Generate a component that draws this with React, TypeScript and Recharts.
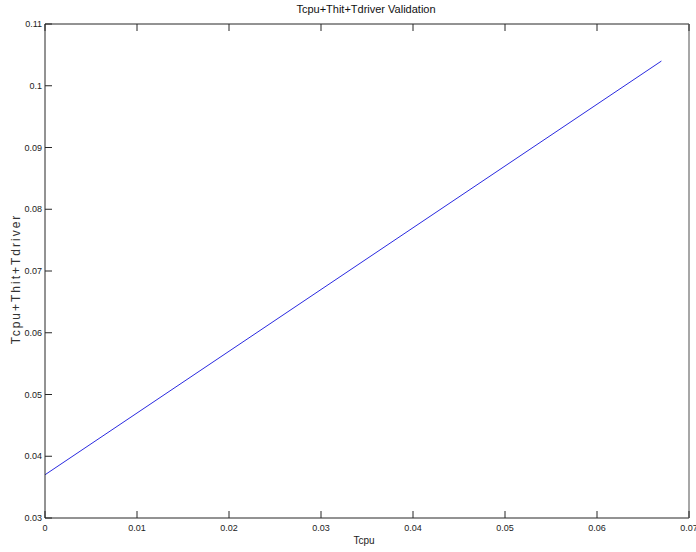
import React from "react";
import { LineChart, Line, XAxis, YAxis } from "recharts";

// Tcpu (x) vs Tcpu+Thit+Tdriver (y)
const tcpu = [0, 0.01, 0.02, 0.03, 0.04, 0.05, 0.06, 0.067];
const totalTime = [0.037, 0.047, 0.057, 0.067, 0.077, 0.087, 0.097, 0.104];

const xTicks = [0, 0.01, 0.02, 0.03, 0.04, 0.05, 0.06, 0.07];
const yTicks = [0.03, 0.04, 0.05, 0.06, 0.07, 0.08, 0.09, 0.1, 0.11];

const data = tcpu.map((x, i) => ({ x, y: totalTime[i] }));

const fmt = (v: number) => String(Number(v.toFixed(2)));
const font = "'Liberation Sans', Arial, sans-serif";
const axisColor = "#262626";
const TICK = 7;

const BottomTick = (props: any) => {
  const { x, y, payload } = props;
  return (
    <g>
      <line x1={x} y1={y} x2={x} y2={y - TICK} stroke={axisColor} />
      <text x={x} y={y + 13} textAnchor="middle" fontSize={9} fontFamily={font} fill="#222">
        {fmt(payload.value)}
      </text>
    </g>
  );
};

const TopTick = (props: any) => {
  const { x, y } = props;
  return <line x1={x} y1={y} x2={x} y2={y + TICK} stroke={axisColor} />;
};

const LeftTick = (props: any) => {
  const { x, y, payload } = props;
  return (
    <g>
      <line x1={x} y1={y} x2={x + TICK} y2={y} stroke={axisColor} />
      <text x={x - 3} y={y + 3} textAnchor="end" fontSize={9} fontFamily={font} fill="#222">
        {fmt(payload.value)}
      </text>
    </g>
  );
};

const RightTick = (props: any) => {
  const { x, y } = props;
  return <line x1={x} y1={y} x2={x - TICK} y2={y} stroke={axisColor} />;
};

export default function App() {
  return (
    <div style={{ position: "absolute", left: 0, top: 0, width: 696, height: 552, background: "#fff", fontFamily: font }}>
      <div style={{ position: "absolute", left: 0, width: 732, top: 3, textAlign: "center", fontSize: 11, color: "#111" }}>
        Tcpu+Thit+Tdriver Validation
      </div>
      <div style={{ position: "absolute", left: 0, width: 728, top: 535, textAlign: "center", fontSize: 10, color: "#222" }}>
        Tcpu
      </div>
      <div
        style={{
          position: "absolute",
          left: 16,
          top: 279,
          fontSize: 12,
          letterSpacing: 2,
          color: "#333",
          whiteSpace: "nowrap",
          transform: "translate(-50%, -50%) rotate(-90deg)",
        }}
      >
        Tcpu+Thit+Tdriver
      </div>
      <LineChart width={696} height={552} data={data} margin={{ top: 23, right: 6, bottom: 33, left: 44 }}>
        <XAxis
          xAxisId="b"
          dataKey="x"
          type="number"
          domain={[0, 0.07]}
          ticks={xTicks}
          interval={0}
          height={1}
          tickSize={0}
          tickMargin={0}
          tickLine={false}
          axisLine={{ stroke: axisColor }}
          tick={<BottomTick />}
        />
        <XAxis
          xAxisId="t"
          orientation="top"
          dataKey="x"
          type="number"
          domain={[0, 0.07]}
          ticks={xTicks}
          interval={0}
          height={1}
          tickSize={0}
          tickMargin={0}
          tickLine={false}
          axisLine={{ stroke: axisColor }}
          tick={<TopTick />}
        />
        <YAxis
          yAxisId="l"
          type="number"
          domain={[0.03, 0.11]}
          ticks={yTicks}
          interval={0}
          width={1}
          tickSize={0}
          tickMargin={0}
          tickLine={false}
          axisLine={{ stroke: axisColor }}
          tick={<LeftTick />}
        />
        <YAxis
          yAxisId="r"
          orientation="right"
          type="number"
          domain={[0.03, 0.11]}
          ticks={yTicks}
          interval={0}
          width={1}
          tickSize={0}
          tickMargin={0}
          tickLine={false}
          axisLine={{ stroke: "#8a8a8a", strokeWidth: 1.5 }}
          tick={<RightTick />}
        />
        <Line
          xAxisId="b"
          yAxisId="l"
          dataKey="y"
          type="linear"
          stroke="#2a2ae0"
          strokeWidth={1}
          dot={false}
          isAnimationActive={false}
        />
      </LineChart>
    </div>
  );
}
